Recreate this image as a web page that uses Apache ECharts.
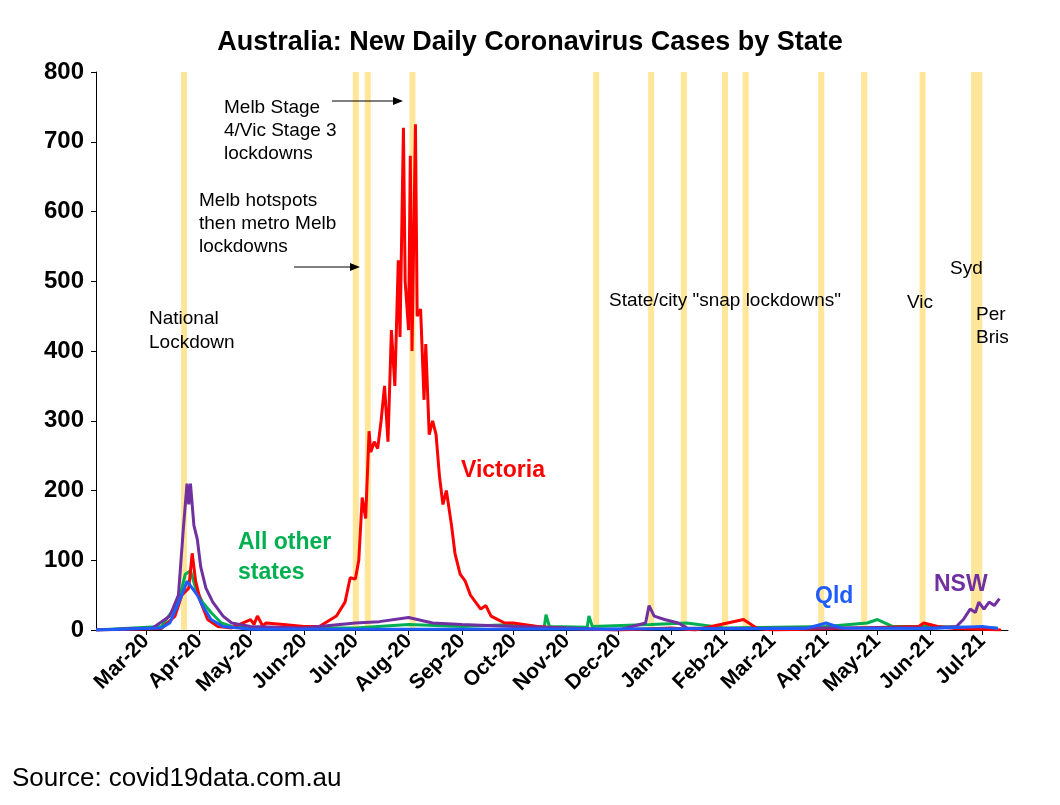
<!DOCTYPE html>
<html lang="en">
<head>
  <script src="https://cdn.jsdelivr.net/npm/echarts@6.0.0/dist/echarts.min.js"></script>
</head>
<body style="margin:0">
  <div id="chart" style="width:1060px;height:805px;"></div>
  <script type="text/javascript">
    var monthLabels = ['2020-02-01','2020-03-01','2020-04-01','2020-05-01','2020-06-01','2020-07-01','2020-08-01','2020-09-01','2020-10-01','2020-11-01','2020-12-01','2021-01-01','2021-02-01','2021-03-01','2021-04-01','2021-05-01','2021-06-01','2021-07-01'];
    var monthNames = ['Feb-20','Mar-20','Apr-20','May-20','Jun-20','Jul-20','Aug-20','Sep-20','Oct-20','Nov-20','Dec-20','Jan-21','Feb-21','Mar-21','Apr-21','May-21','Jun-21','Jul-21'];

    var victoria = [['2020-02-01',0],['2020-03-10',2],['2020-03-18',20],['2020-03-22',50],['2020-03-26',60],['2020-03-28',110],['2020-03-30',70],['2020-04-02',40],['2020-04-06',15],['2020-04-12',5],['2020-04-20',3],['2020-05-01',15],['2020-05-03',8],['2020-05-05',20],['2020-05-08',6],['2020-05-10',10],['2020-05-20',8],['2020-06-01',5],['2020-06-10',5],['2020-06-20',20],['2020-06-25',40],['2020-06-28',75],['2020-07-01',73],['2020-07-03',100],['2020-07-05',190],['2020-07-07',160],['2020-07-09',285],['2020-07-10',255],['2020-07-12',270],['2020-07-14',260],['2020-07-16',300],['2020-07-18',350],['2020-07-20',270],['2020-07-22',430],['2020-07-24',350],['2020-07-26',530],['2020-07-27',420],['2020-07-29',720],['2020-07-30',500],['2020-08-01',430],['2020-08-02',680],['2020-08-03',400],['2020-08-05',725],['2020-08-06',450],['2020-08-08',460],['2020-08-10',330],['2020-08-11',410],['2020-08-13',280],['2020-08-15',300],['2020-08-17',280],['2020-08-19',220],['2020-08-21',180],['2020-08-23',200],['2020-08-26',150],['2020-08-28',110],['2020-08-31',80],['2020-09-03',70],['2020-09-06',50],['2020-09-09',40],['2020-09-12',30],['2020-09-15',35],['2020-09-18',20],['2020-09-22',15],['2020-09-26',10],['2020-10-01',10],['2020-10-15',5],['2020-11-01',2],['2020-12-01',0],['2021-01-01',3],['2021-01-15',0],['2021-02-12',15],['2021-02-20',2],['2021-03-01',0],['2021-05-25',5],['2021-05-28',10],['2021-06-05',5],['2021-06-15',2],['2021-07-01',1],['2021-07-12',0]];
    var nsw = [['2020-02-01',0],['2020-03-05',3],['2020-03-15',20],['2020-03-20',50],['2020-03-23',150],['2020-03-25',210],['2020-03-26',180],['2020-03-27',210],['2020-03-29',150],['2020-03-31',130],['2020-04-02',90],['2020-04-05',60],['2020-04-09',40],['2020-04-15',20],['2020-04-20',10],['2020-05-01',5],['2020-06-01',3],['2020-07-01',10],['2020-07-15',12],['2020-08-01',18],['2020-08-15',10],['2020-09-01',8],['2020-10-01',5],['2020-11-01',3],['2020-12-01',0],['2020-12-17',10],['2020-12-19',35],['2020-12-22',20],['2020-12-28',15],['2021-01-05',10],['2021-01-10',3],['2021-02-01',2],['2021-04-01',3],['2021-06-01',3],['2021-06-16',5],['2021-06-20',15],['2021-06-24',30],['2021-06-27',25],['2021-06-29',40],['2021-07-02',30],['2021-07-05',40],['2021-07-08',35],['2021-07-11',45]];
    var others = [['2020-02-01',0],['2020-03-10',5],['2020-03-20',40],['2020-03-24',80],['2020-03-27',85],['2020-03-30',60],['2020-04-03',40],['2020-04-08',25],['2020-04-14',10],['2020-04-20',5],['2020-05-01',3],['2020-06-01',3],['2020-07-01',3],['2020-08-01',8],['2020-09-01',5],['2020-10-01',8],['2020-10-19',4],['2020-10-20',22],['2020-10-22',5],['2020-11-13',4],['2020-11-14',20],['2020-11-16',5],['2020-12-20',8],['2021-01-10',10],['2021-02-01',3],['2021-04-01',5],['2021-04-25',10],['2021-05-01',15],['2021-05-10',5],['2021-06-01',5],['2021-07-10',3]];
    var qld = [['2020-02-01',0],['2020-03-10',3],['2020-03-15',10],['2020-03-22',50],['2020-03-25',70],['2020-03-28',60],['2020-03-31',50],['2020-04-03',35],['2020-04-08',15],['2020-04-15',5],['2020-05-01',1],['2020-09-01',1],['2021-03-20',2],['2021-04-01',10],['2021-04-10',3],['2021-06-01',2],['2021-07-01',5],['2021-07-10',2]];
    var lockdowns = ['2020-03-23','2020-07-01','2020-07-08','2020-08-03','2020-11-18','2020-12-20','2021-01-08','2021-02-01','2021-02-13','2021-03-29','2021-04-23','2021-05-27','2021-06-26','2021-06-29'];

    function day(s) {
      var p = s.split('-');
      return (Date.UTC(+p[0], p[1] - 1, +p[2]) - Date.UTC(2020, 1, 1)) / 864e5;
    }
    function toXY(arr) { return arr.map(function (d) { return [day(d[0]), d[1]]; }); }

    var ticks = monthLabels.map(day);
    var chart = echarts.init(document.getElementById('chart'));
    var font = 'Arial, Liberation Sans, sans-serif';

    function line(name, data, color, z) {
      return { name: name, type: 'line', data: toXY(data), showSymbol: false, z: z,
               lineStyle: { color: color, width: 3 }, itemStyle: { color: color } };
    }

    var series = [
      line('All other states', others, '#00b050', 3),
      line('Victoria', victoria, '#ff0000', 4),
      line('NSW', nsw, '#7030a0', 5),
      line('Qld', qld, '#1f5cff', 6)
    ];
    series[0].markArea = {
      silent: true,
      itemStyle: { color: '#ffe699' },
      data: lockdowns.map(function (d) { return [{ xAxis: day(d) - 1.5 }, { xAxis: day(d) + 2 }]; })
    };

    var ann = '19px Arial';
    var option = {
      animation: false,
      title: { text: 'Australia: New Daily Coronavirus Cases by State', left: 'center', top: 14,
               textStyle: { fontFamily: font, fontSize: 27, fontWeight: 'bold', color: '#000' } },
      grid: { left: 96, right: 52, top: 72, bottom: 175 },
      xAxis: {
        type: 'value', min: 0, max: 531,
        splitLine: { show: false },
        axisLine: { lineStyle: { color: '#000', width: 1 } },
        axisTick: { customValues: ticks, lineStyle: { color: '#000' } },
        axisLabel: { customValues: ticks, rotate: 45, fontFamily: font, fontSize: 21, fontWeight: 'bold', color: '#000',
                     formatter: function (v) { return monthNames[ticks.indexOf(v)]; } }
      },
      yAxis: {
        type: 'value', min: 0, max: 800, interval: 100,
        splitLine: { show: false },
        axisLine: { show: true, lineStyle: { color: '#000' } },
        axisTick: { show: true, lineStyle: { color: '#000' } },
        axisLabel: { fontFamily: font, fontSize: 24, fontWeight: 'bold', color: '#000', margin: 12 }
      },
      series: series,
      graphic: { elements: [
        { type: 'text', z: 100, left: 12, top: 756, style: { text: 'Source: covid19data.com.au', font: '26px Arial', fill: '#000' } },
        { type: 'text', z: 100, left: 149, top: 302, style: { text: 'National\nLockdown', font: ann, fill: '#000', lineHeight: 24 } },
        { type: 'text', z: 100, left: 224, top: 91, style: { text: 'Melb Stage\n4/Vic Stage 3\nlockdowns', font: ann, fill: '#000', lineHeight: 23 } },
        { type: 'text', z: 100, left: 199, top: 184, style: { text: 'Melb hotspots\nthen metro Melb\nlockdowns', font: ann, fill: '#000', lineHeight: 23 } },
        { type: 'text', z: 100, left: 609, top: 284, style: { text: 'State/city "snap lockdowns"', font: ann, fill: '#000' } },
        { type: 'text', z: 100, left: 907, top: 286, style: { text: 'Vic', font: ann, fill: '#000' } },
        { type: 'text', z: 100, left: 950, top: 252, style: { text: 'Syd', font: ann, fill: '#000' } },
        { type: 'text', z: 100, left: 976, top: 298, style: { text: 'Per\nBris', font: ann, fill: '#000', lineHeight: 23 } },
        { type: 'text', z: 100, left: 461, top: 451, style: { text: 'Victoria', font: 'bold 23px Arial', fill: '#ff0000' } },
        { type: 'text', z: 100, left: 238, top: 523, style: { text: 'All other\nstates', font: 'bold 23px Arial', fill: '#00b050', lineHeight: 30 } },
        { type: 'text', z: 100, left: 815, top: 577, style: { text: 'Qld', font: 'bold 23px Arial', fill: '#1f5cff' } },
        { type: 'text', z: 100, left: 934, top: 565, style: { text: 'NSW', font: 'bold 23px Arial', fill: '#7030a0' } },
        { type: 'line', z: 100, shape: { x1: 332, y1: 101, x2: 395, y2: 101 }, style: { stroke: '#000', lineWidth: 1 } },
        { type: 'polygon', z: 100, shape: { points: [[403, 101], [393, 97], [393, 105]] }, style: { fill: '#000' } },
        { type: 'line', z: 100, shape: { x1: 294, y1: 267, x2: 352, y2: 267 }, style: { stroke: '#000', lineWidth: 1 } },
        { type: 'polygon', z: 100, shape: { points: [[360, 267], [350, 263], [350, 271]] }, style: { fill: '#000' } }
      ] }
    };
    chart.setOption(option);
  </script>
</body>
</html>
